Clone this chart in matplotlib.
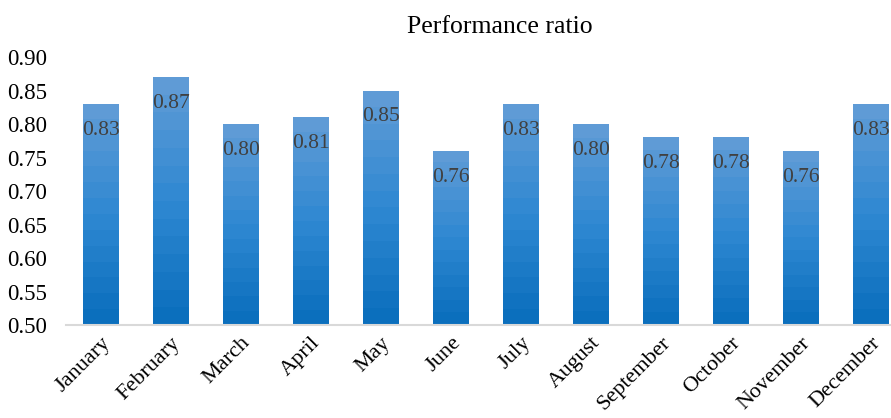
import matplotlib
matplotlib.use("Agg")
import matplotlib.pyplot as plt
import matplotlib.patheffects as pe
from matplotlib.colors import LinearSegmentedColormap
import numpy as np

plt.rcParams["font.family"] = ["Liberation Serif", "DejaVu Serif"]

months = ["January", "February", "March", "April", "May", "June",
          "July", "August", "September", "October", "November", "December"]
ratio = [0.83, 0.87, 0.80, 0.81, 0.85, 0.76, 0.83, 0.80, 0.78, 0.78, 0.76, 0.83]
yticks = [0.50, 0.55, 0.60, 0.65, 0.70, 0.75, 0.80, 0.85, 0.90]

fig = plt.figure(figsize=(8.91, 4.18), dpi=100)
ax = fig.add_axes([0.074, 0.2225, 0.943, 0.641])

# banded vertical gradient like the spreadsheet fill
cmap = LinearSegmentedColormap.from_list("blues", ["#0b6fbd", "#2f88d2", "#5f9bd6"])
grad = np.linspace(0, 1, 14)
grad = (np.floor(grad * 13) / 13)[::-1].reshape(-1, 1)

x = np.arange(len(months))
w = 0.51
bars = ax.bar(x, np.array(ratio) - 0.5, bottom=0.5, width=w, color="none",
              edgecolor="none", zorder=2)
for b, v in zip(bars, ratio):
    xs = b.get_x()
    # soft shadow
    ax.bar(b.get_x() + w / 2, v - 0.5, bottom=0.5, width=w, color="#9a9a9a",
           alpha=0.35, zorder=1,
           path_effects=[pe.SimplePatchShadow(offset=(0, 0), alpha=0.25, rho=1.0)])
    im = ax.imshow(grad, extent=(xs, xs + w, 0.5, v), aspect="auto",
                   cmap=cmap, vmin=0, vmax=1, zorder=2, interpolation="nearest")
    im.set_clip_path(b)
    ax.annotate(f"{v:.2f}", (b.get_x() + w / 2, v), xytext=(0, -19),
                textcoords="offset points", ha="center", va="center",
                fontsize=15.5, color="#404040", zorder=3)

ax.set_xlim(-0.5, len(months) - 0.5)
ax.set_ylim(0.5, 0.9)
ax.set_yticks(yticks)
ax.set_yticklabels([f"{t:.2f}" for t in yticks], fontsize=16.5)
ax.set_xticks(x)
ax.set_xticklabels(months, rotation=45, ha="right", rotation_mode="anchor", fontsize=16)
ax.tick_params(axis="y", length=0, pad=13.5)
ax.tick_params(axis="x", length=0, pad=6)
for s in ["top", "right", "left"]:
    ax.spines[s].set_visible(False)
ax.spines["bottom"].set_color("#d9d9d9")
ax.spines["bottom"].set_linewidth(1.5)

fig.text(0.561, 0.935, "Performance ratio", ha="center", va="center", fontsize=18.5)

fig.savefig("out.png", dpi=100)
